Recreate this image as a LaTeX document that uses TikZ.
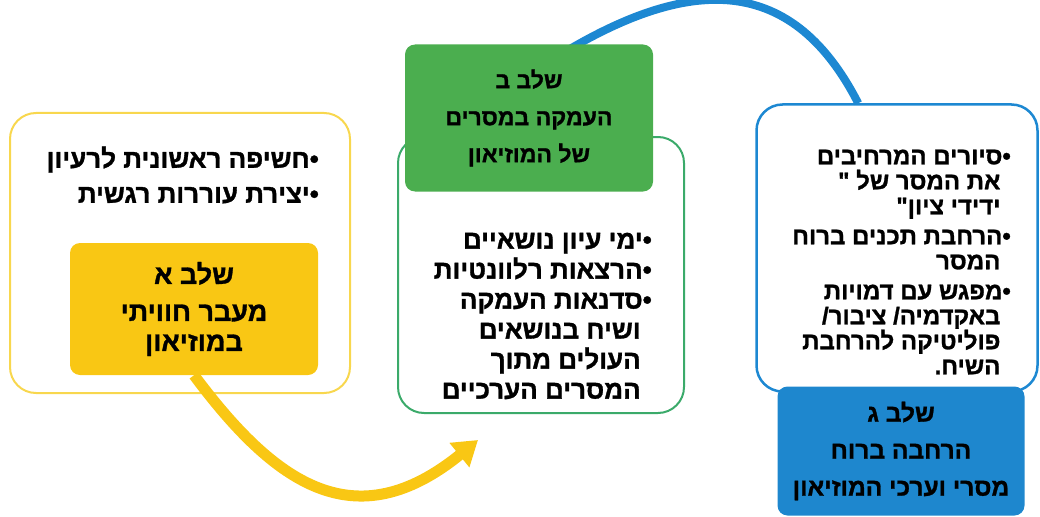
\documentclass[tikz,border=0pt]{standalone}
\usepackage{fontspec}
\usepackage{tikz}
\usetikzlibrary{arrows.meta}
\TeXXeTstate=1
\newfontfamily\hebfont[Script=Hebrew,BoldFont={Liberation Sans Bold},BoldFeatures={FakeBold=1.2}]{Liberation Sans}
\newcommand{\rl}[1]{\beginR #1\endR}
\newcommand{\nb}{\hphantom{•}\hspace{2pt}}
\definecolor{yfill}{HTML}{F9C714}
\definecolor{yline}{HTML}{F8D74E}
\definecolor{gfill}{HTML}{4BAE4F}
\definecolor{gline}{HTML}{3BAA6A}
\definecolor{bfill}{HTML}{1E87CE}
\definecolor{bline}{HTML}{1D88D2}
\tikzstyle{frame}=[shape=rectangle,rounded corners=26pt,line width=2pt]
\tikzstyle{stage}=[shape=rectangle,rounded corners=10pt,align=center]
\tikzstyle{items}=[align=right,inner sep=0pt]
\tikzstyle{l}=[draw,line width=10pt]
\pgfdeclarelayer{back}
\pgfsetlayers{back,main}

\begin{document}
\begin{tikzpicture}[x=1pt,y=-1pt]
\useasboundingbox (0,0) rectangle (1040,516);

% frames
\node[frame, draw=yline, minimum width=340pt, minimum height=280pt] (yframe) at (180,253) {};
\node[frame, draw=gline, minimum width=286pt, minimum height=276pt] (gframe) at (541,275) {};
\node[frame, draw=bline, line width=2.5pt, minimum width=281pt, minimum height=287pt] (bframe) at (897,248) {};

% stages
\node[stage, fill=yfill, minimum width=248pt, minimum height=132pt, font=\hebfont\bfseries\fontsize{27}{37}\selectfont] (ybox) at (194,309)
  {\rl{שלב א}\\[0pt] \rl{מעבר חוויתי}\\[-7pt] \rl{במוזיאון}};
\node[stage, fill=gfill, minimum width=248pt, minimum height=147pt, font=\hebfont\bfseries\fontsize{23}{37}\selectfont] (gbox) at (529,118)
  {\rl{שלב ב}\\ \rl{העמקה במסרים}\\ \rl{של המוזיאון}};
\node[stage, fill=bfill, minimum width=247pt, minimum height=129pt, font=\hebfont\bfseries\fontsize{24.5}{37}\selectfont] (bbox) at (901,451)
  {\rl{שלב ג}\\ \rl{הרחבה ברוח}\\ \rl{מסרי וערכי המוזיאון}};

% items
\node[items, anchor=east, font=\hebfont\bfseries\fontsize{26}{35}\selectfont] (yitems) at (319,175)
  {\rl{•חשיפה ראשונית לרעיון}\\ \rl{•יצירת עוררות רגשית}};
\node[items, anchor=east, font=\hebfont\bfseries\fontsize{26}{30}\selectfont] (gitems) at (652,316)
  {\rl{•ימי עיון נושאיים}\\ \rl{•הרצאות רלוונטיות}\\ \rl{•סדנאות העמקה}\\
   \rl{\nb ושיח בנושאים}\\ \rl{\nb העולים מתוך}\\ \rl{\nb המסרים הערכיים}};
\node[items, anchor=east, font=\hebfont\bfseries\fontsize{24}{25}\selectfont] (bitems) at (1011,262)
  {\rl{•סיורים המרחיבים}\\ \rl{\nb את המסר של "}\\ \rl{\nb ידידי ציון"}\\[5pt]
   \rl{•הרחבת תכנים ברוח}\\ \rl{\nb המסר}\\[5pt]
   \rl{•מפגש עם דמויות}\\ \rl{\nb באקדמיה/ ציבור/}\\ \rl{\nb פוליטיקה להרחבת}\\ \rl{\nb השיח.}};

% ends
\coordinate (ytip) at (478,440);
\coordinate (barc) at (550,61);

%paths
\path [l, draw=yfill, line width=11pt, -{Triangle[length=24pt,width=30pt]}] (ybox.south) .. controls (275,484) and (355,540) .. (ytip);
\begin{pgfonlayer}{back}
\path [l, draw=bline, line width=8pt] (bframe.105) .. controls (789,-32) and (682,-22) .. (barc);
\end{pgfonlayer}

\end{tikzpicture}
\end{document}
